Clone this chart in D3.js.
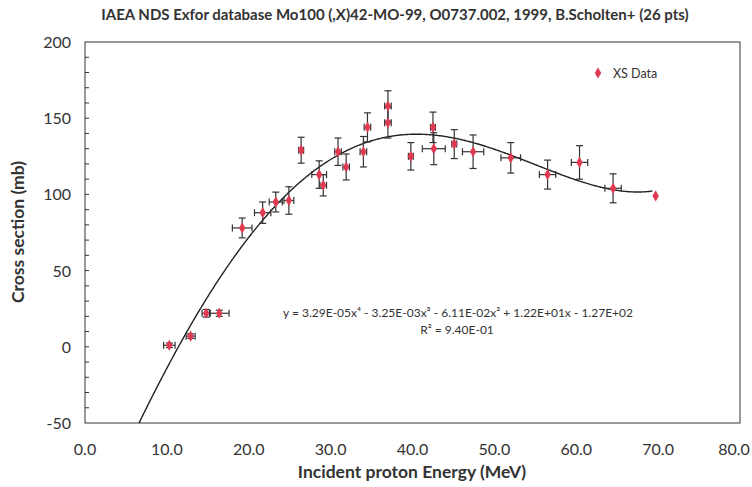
<!DOCTYPE html>
<html>
<head>
<meta charset="utf-8">
<script src="https://cdn.jsdelivr.net/npm/d3@7"></script>
<style>
  body { margin: 0; background: #fff; }
  text { font-family: Lato, "Open Sans", sans-serif; fill: #333; }
</style>
</head>
<body>
<svg id="chart" width="752" height="487"></svg>
<script>
// Measured points (MeV, mb) with uncertainties
const energy = [10.3, 12.9, 14.8, 16.4, 19.2, 21.7, 23.3, 24.9, 26.4, 28.6, 29.1, 30.9, 31.9,
  34.0, 34.5, 37.0, 37.0, 39.8, 42.5, 42.6, 45.1, 47.4, 52.0, 56.5, 60.4, 64.5, 69.7];
const xsec = [1, 7, 22, 22, 78, 88, 95, 96, 129, 113, 106, 128, 118,
  128, 144, 158, 147, 125, 144, 130, 133, 128, 124, 113, 121, 104, 99];
const dEnergy = [0.7, 0.55, 0.5, 1.2, 1.2, 1.0, 0.8, 0.6, 0.3, 0.9, 0.4, 0.4, 0.4,
  0.4, 0.4, 0.4, 0.4, 0.3, 0.3, 1.4, 0.3, 1.3, 1.2, 1.0, 1.0, 1.0, 0];
const dXsec = [1.5, 1.5, 2.5, 2, 6.5, 7, 6.5, 9, 8.5, 9, 7, 9, 8.5,
  10, 9.5, 10, 10, 9, 10, 10.5, 9.5, 11, 10, 9.5, 11, 9.5, 0];

// 4th order polynomial trendline, coefficients as printed (x^4 ... x^0)
const trendCoef = [3.29E-05, -3.25E-03, -6.11E-02, 1.22E+01, -1.27E+02];
const trendRange = [6.6, 69.3];

const xTicks = [0, 10, 20, 30, 40, 50, 60, 70, 80];
const yTicks = [-50, 0, 50, 100, 150, 200];

const titleText = "IAEA NDS Exfor database  Mo100 (,X)42-MO-99,  O0737.002, 1999, B.Scholten+ (26 pts)";

const svg = d3.select('#chart');
const m = { left: 85, right: 740, top: 42, bottom: 423 };

const x = d3.scaleLinear().domain([0, 80]).range([m.left, m.right]);
const y = d3.scaleLinear().domain([-50, 200]).range([m.bottom, m.top]);

const red = '#e03a52';
const ink = '#333';

// title
svg.append('text')
  .attr('x', 395).attr('y', 20)
  .attr('text-anchor', 'middle')
  .attr('font-size', 15).attr('font-weight', 'bold')
  .text(titleText);

// frame
svg.append('rect')
  .attr('x', m.left).attr('y', m.top)
  .attr('width', m.right - m.left).attr('height', m.bottom - m.top)
  .attr('fill', 'none').attr('stroke', ink).attr('stroke-width', 1);

// y ticks every 10 mb, pointing inward
svg.append('g').selectAll('line')
  .data(d3.range(-40, 200, 10))
  .enter().append('line')
    .attr('x1', m.left).attr('x2', m.left + 4)
    .attr('y1', d => y(d)).attr('y2', d => y(d))
    .attr('stroke', ink);

svg.append('g').selectAll('text')
  .data(yTicks)
  .enter().append('text')
    .attr('x', 71).attr('y', d => y(d) + 6)
    .attr('text-anchor', 'end')
    .attr('font-size', 16)
    .text(d => d);

svg.append('g').selectAll('text')
  .data(xTicks)
  .enter().append('text')
    .attr('x', d => Math.min(x(d), 734)).attr('y', 455)
    .attr('text-anchor', 'middle')
    .attr('font-size', 16)
    .text(d => d.toFixed(1));

// axis titles
svg.append('text')
  .attr('x', 412).attr('y', 478)
  .attr('text-anchor', 'middle')
  .attr('font-size', 17.5).attr('font-weight', 'bold')
  .text('Incident proton Energy (MeV)');

svg.append('text')
  .attr('transform', 'translate(24,232) rotate(-90)')
  .attr('text-anchor', 'middle')
  .attr('font-size', 17.5).attr('font-weight', 'bold')
  .text('Cross section (mb)');

// trendline
function poly(e) {
  return trendCoef.reduce((acc, c) => acc * e + c, 0);
}
const curve = d3.range(trendRange[0], trendRange[1], 0.1).concat([trendRange[1]]);
svg.append('path')
  .datum(curve)
  .attr('fill', 'none')
  .attr('stroke', '#222')
  .attr('stroke-width', 1.4)
  .attr('d', d3.line().x(d => x(d)).y(d => y(poly(d))));

const pts = energy.map((e, i) => ({ e: e, s: xsec[i], de: dEnergy[i], ds: dXsec[i] }));
const cap = 3.5;

const eb = svg.append('g').attr('stroke', ink).attr('stroke-width', 1.2);
pts.filter(p => p.ds > 0).forEach(p => {
  eb.append('line').attr('x1', x(p.e)).attr('x2', x(p.e))
    .attr('y1', y(p.s - p.ds)).attr('y2', y(p.s + p.ds));
  [p.s - p.ds, p.s + p.ds].forEach(v => {
    eb.append('line').attr('x1', x(p.e) - cap).attr('x2', x(p.e) + cap)
      .attr('y1', y(v)).attr('y2', y(v));
  });
});
pts.filter(p => p.de > 0).forEach(p => {
  eb.append('line').attr('x1', x(p.e - p.de)).attr('x2', x(p.e + p.de))
    .attr('y1', y(p.s)).attr('y2', y(p.s));
  [p.e - p.de, p.e + p.de].forEach(v => {
    eb.append('line').attr('x1', x(v)).attr('x2', x(v))
      .attr('y1', y(p.s) - cap).attr('y2', y(p.s) + cap);
  });
});

const diamond = d3.symbol().type(d3.symbolDiamond).size(36);
svg.append('g').selectAll('path')
  .data(pts)
  .enter().append('path')
    .attr('transform', p => `translate(${x(p.e)},${y(p.s)})`)
    .attr('d', diamond)
    .attr('fill', red);

// legend
svg.append('path')
  .attr('transform', 'translate(598,73)')
  .attr('d', diamond)
  .attr('fill', red);
svg.append('text')
  .attr('x', 613).attr('y', 78)
  .attr('font-size', 12.5)
  .text('XS Data');

// equation
svg.append('text')
  .attr('x', 458).attr('y', 317)
  .attr('text-anchor', 'middle')
  .attr('font-size', 12)
  .text('y = 3.29E-05x\u2074 - 3.25E-03x\u00b3 - 6.11E-02x\u00b2 + 1.22E+01x - 1.27E+02');
svg.append('text')
  .attr('x', 457).attr('y', 334)
  .attr('text-anchor', 'middle')
  .attr('font-size', 12)
  .text('R\u00b2 = 9.40E-01');
</script>
</body>
</html>
